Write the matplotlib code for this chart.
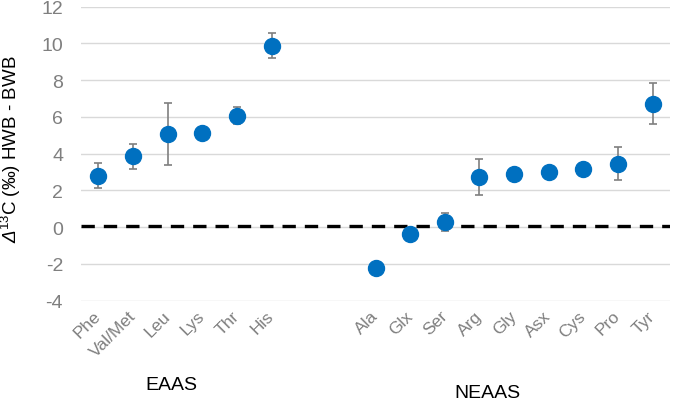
import matplotlib
matplotlib.use("Agg")
import matplotlib.pyplot as plt
import numpy as np

plt.rcParams['font.family'] = ['Liberation Sans', 'DejaVu Sans']
plt.rcParams['mathtext.fontset'] = 'custom'
plt.rcParams['mathtext.rm'] = 'Liberation Sans'
plt.rcParams['mathtext.it'] = 'Liberation Sans:italic'
plt.rcParams['mathtext.sf'] = 'Liberation Sans:italic'
plt.rcParams['axes.unicode_minus'] = False

# Data
eaas = ["Phe", "Val/Met", "Leu", "Lys", "Thr", "His"]
eaas_val = [2.8, 3.85, 5.08, 5.15, 6.07, 9.87]
eaas_err = [0.68, 0.68, 1.7, 0.1, 0.45, 0.68]

neaas = ["Ala", "Glx", "Ser", "Arg", "Gly", "Asx", "Cys", "Pro", "Tyr"]
neaas_val = [-2.2, -0.38, 0.27, 2.72, 2.9, 2.98, 3.16, 3.45, 6.72]
neaas_err = [0.1, 0.15, 0.5, 0.97, 0.15, 0.1, 0.15, 0.9, 1.13]

group_labels = ["EAAS", "NEAAS"]
yticks = [-4, -2, 0, 2, 4, 6, 8, 10, 12]
zero_line = 0.05
gap = 2

x_e = np.arange(len(eaas))
x_n = np.arange(len(neaas)) + len(eaas) + gap
xs = np.concatenate([x_e, x_n])
labels = eaas + neaas
vals = eaas_val + neaas_val
errs = eaas_err + neaas_err

fig = plt.figure(figsize=(6.76, 4.02), dpi=100)
ax = fig.add_axes([0.12, 0.2495, 0.871, 0.7315])

ax.set_ylim(-4, 12)
ax.set_xlim(-0.5, xs[-1] + 0.5)
ax.set_yticks(yticks)
ax.yaxis.grid(True, color='#d9d9d9', lw=1.0)
ax.set_axisbelow(True)
for s in ax.spines.values():
    s.set_visible(False)

ax.axhline(zero_line, color='black', lw=2.4, dashes=(4, 2.7), zorder=2)

ax.errorbar(xs, vals, yerr=errs, fmt='o', color='#0070c0', ms=11.5,
            ecolor='#7f7f7f', elinewidth=1.2, capsize=3.2, capthick=1.2,
            zorder=3, clip_on=False)

ax.set_xticks(xs)
ax.set_xticklabels(labels, rotation=45, ha='right', va='center',
                   rotation_mode='anchor', color='#7f7f7f', fontsize=12.5)
ax.tick_params(axis='x', length=0, pad=9)
ax.tick_params(axis='y', length=0, pad=13, labelcolor='#7f7f7f', labelsize=14)

ax.set_ylabel(r'$\mathsf{Δ}^{13}$C (‰) HWB - BWB', fontsize=13.5, color='black')
ax.yaxis.set_label_coords(-0.0985, 0.52)

fig.text(171 / 676, 1 - 386 / 402, group_labels[0], ha='center', va='center', fontsize=14)
fig.text(487 / 676, 1 - 394 / 402, group_labels[1], ha='center', va='center', fontsize=14)

fig.savefig("out.png", dpi=100)
